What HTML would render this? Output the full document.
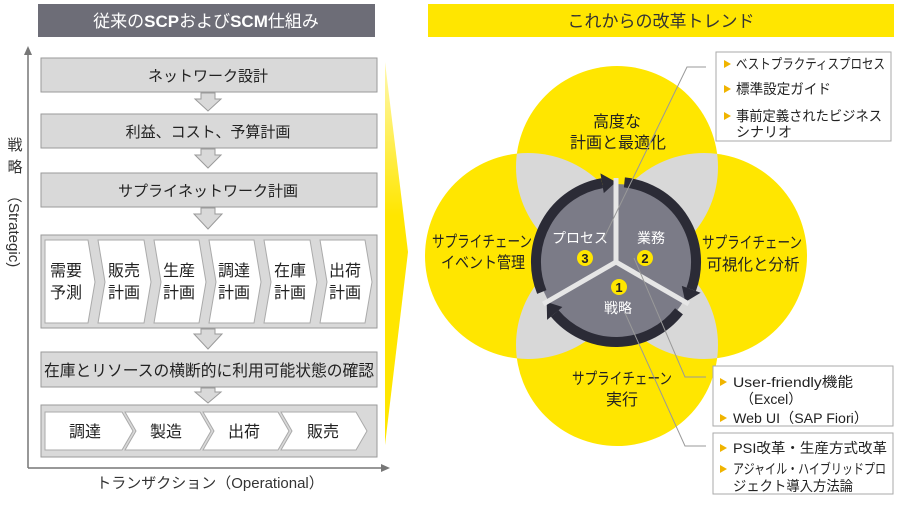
<!DOCTYPE html>
<html><head><meta charset="utf-8"><style>
body{margin:0;background:#fff;}
svg text{font-family:"Liberation Sans","Noto Sans CJK JP",sans-serif;}
</style></head><body>
<svg width="900" height="500" viewBox="0 0 900 500" xmlns="http://www.w3.org/2000/svg">
<defs>
<clipPath id="cT"><circle cx="617" cy="167" r="101"/></clipPath>
<clipPath id="cB"><circle cx="617" cy="345" r="101"/></clipPath>
<linearGradient id="wg" x1="0" y1="0" x2="0" y2="1"><stop offset="0" stop-color="#fff8b0"/><stop offset="0.4" stop-color="#ffe600"/><stop offset="1" stop-color="#ffe600"/></linearGradient>
</defs>
<rect x="38" y="4" width="337" height="33" fill="#6d6d77"/>
<text x="206" y="27" font-size="17" fill="#fff" text-anchor="middle">従来の<tspan font-weight="bold">SCP</tspan>および<tspan font-weight="bold">SCM</tspan>仕組み</text>
<line x1="28" y1="52" x2="28" y2="468" stroke="#777" stroke-width="1.5"/>
<polygon points="28,46 24,55 32,55" fill="#777"/>
<line x1="28" y1="468" x2="382" y2="468" stroke="#777" stroke-width="1.5"/>
<polygon points="390,468 381,464 381,472" fill="#777"/>
<text x="15" y="150" font-size="15" fill="#333" text-anchor="middle">戦</text>
<text x="15" y="172" font-size="15" fill="#333" text-anchor="middle">略</text>
<text x="0" y="0" font-size="15" fill="#333" transform="translate(9,188) rotate(90)">（Strategic)</text>
<text x="210" y="488" font-size="15" fill="#333" text-anchor="middle">トランザクション（Operational）</text>
<polygon points="385,62 408,252 385,445" fill="url(#wg)"/>
<g fill="#d9d9d9" stroke="#9a9a9a" stroke-width="1">
<rect x="41" y="58" width="336" height="34"/>
<rect x="41" y="114" width="336" height="34"/>
<rect x="41" y="173" width="336" height="34"/>
<rect x="41" y="235" width="336" height="93"/>
<rect x="41" y="352" width="336" height="35"/>
<rect x="41" y="405" width="336" height="52"/>
</g>
<g fill="#d9d9d9" stroke="#9a9a9a" stroke-width="1">
<polygon points="201,93 215,93 215,99 221,99 208,111 195,99 201,99"/>
<polygon points="201,149 215,149 215,155 221,155 208,168 195,155 201,155"/>
<polygon points="201,208 215,208 215,214 222,214 208,229 194,214 201,214"/>
<polygon points="201,329 215,329 215,334 222,334 208,349 194,334 201,334"/>
<polygon points="201,388 215,388 215,392 221,392 208,403 195,392 201,392"/>
</g>
<g font-size="15" fill="#222" text-anchor="middle">
<text x="208" y="81">ネットワーク設計</text>
<text x="208" y="137">利益、コスト、予算計画</text>
<text x="208" y="196">サプライネットワーク計画</text>
<text x="209" y="376" font-size="16" textLength="330" lengthAdjust="spacingAndGlyphs">在庫とリソースの横断的に利用可能状態の確認</text>
</g>
<g fill="#fff" stroke="#aaa" stroke-width="1">
<polygon points="45,240 88,240 95,282 88,323 45,323"/>
<polygon points="98,240 144,240 151,282 144,323 98,323 105,282"/>
<polygon points="154,240 199,240 206,282 199,323 154,323 161,282"/>
<polygon points="209,240 254,240 261,282 254,323 209,323 216,282"/>
<polygon points="264,240 310,240 317,282 310,323 264,323 271,282"/>
<polygon points="320,240 365,240 372,282 365,323 320,323 327,282"/>
</g>
<g font-size="16" fill="#222" text-anchor="middle">
<text x="66" y="276">需要</text><text x="66" y="298">予測</text>
<text x="124" y="276">販売</text><text x="124" y="298">計画</text>
<text x="179" y="276">生産</text><text x="179" y="298">計画</text>
<text x="234" y="276">調達</text><text x="234" y="298">計画</text>
<text x="290" y="276">在庫</text><text x="290" y="298">計画</text>
<text x="345" y="276">出荷</text><text x="345" y="298">計画</text>
</g>
<g fill="#fff" stroke="#aaa" stroke-width="1">
<polygon points="45,412 122,412 133,431 122,450 45,450"/>
<polygon points="125,412 200,412 211,431 200,450 125,450 136,431"/>
<polygon points="203,412 278,412 289,431 278,450 203,450 214,431"/>
<polygon points="281,412 356,412 367,431 356,450 281,450 292,431"/>
</g>
<g font-size="16" fill="#222" text-anchor="middle">
<text x="85" y="437">調達</text><text x="166" y="437">製造</text>
<text x="244" y="437">出荷</text><text x="323" y="437">販売</text>
</g>
<rect x="428" y="4" width="466" height="33" fill="#ffe600"/>
<text x="661" y="27" font-size="17" fill="#333" text-anchor="middle">これからの改革トレンド</text>
<g fill="#ffe600">
<circle cx="617" cy="167" r="101"/><circle cx="528" cy="256" r="103"/>
<circle cx="704" cy="256" r="103"/><circle cx="617" cy="345" r="101"/>
</g>
<g fill="#d8d8d8">
<circle cx="528" cy="256" r="103" clip-path="url(#cT)"/>
<circle cx="704" cy="256" r="103" clip-path="url(#cT)"/>
<circle cx="528" cy="256" r="103" clip-path="url(#cB)"/>
<circle cx="704" cy="256" r="103" clip-path="url(#cB)"/>
</g>
<circle cx="616" cy="262" r="78" fill="#7b7b87"/>
<g fill="none" stroke="#2b2b36" stroke-width="10">
<path d="M624.4,182.4 A80,80 0 0 1 691.2,289.4"/>
<path d="M679,311.3 A80,80 0 0 1 554.7,313.4"/>
<path d="M541.8,292 A80,80 0 0 1 602.1,183.2"/>
</g>
<g fill="#2b2b36">
<polygon points="685.3,302 681.8,285.9 700.6,292.8"/>
<polygon points="546.7,302 562.4,307 547.1,319.9"/>
<polygon points="616,182 603.8,193.1 600.4,173.4"/>
</g>
<g stroke="#e6e6e6" stroke-width="5">
<line x1="616" y1="262" x2="616" y2="178"/>
<line x1="616" y1="262" x2="688.7" y2="304"/>
<line x1="616" y1="262" x2="543.3" y2="304"/>
</g>
<g font-size="16" fill="#222" text-anchor="middle">
<text x="617" y="127">高度な</text><text x="618" y="148" textLength="96" lengthAdjust="spacingAndGlyphs">計画と最適化</text>
<text x="482" y="247" textLength="100" lengthAdjust="spacingAndGlyphs">サプライチェーン</text><text x="483" y="268" textLength="84" lengthAdjust="spacingAndGlyphs">イベント管理</text>
<text x="752" y="248" textLength="100" lengthAdjust="spacingAndGlyphs">サプライチェーン</text><text x="753" y="270" textLength="93" lengthAdjust="spacingAndGlyphs">可視化と分析</text>
<text x="622" y="384" textLength="100" lengthAdjust="spacingAndGlyphs">サプライチェーン</text><text x="622" y="405">実行</text>
</g>
<g font-size="14" fill="#fff" text-anchor="middle">
<text x="580" y="243">プロセス</text><text x="651" y="243">業務</text><text x="618" y="313">戦略</text>
</g>
<g fill="#ffe600"><circle cx="585" cy="258" r="8"/><circle cx="645" cy="258" r="8"/><circle cx="619" cy="287" r="8"/></g>
<g font-size="13" font-weight="bold" fill="#222" text-anchor="middle">
<text x="585" y="263">3</text><text x="645" y="263">2</text><text x="619" y="292">1</text>
</g>
<g stroke="#999" stroke-width="1" fill="none">
<polyline points="706,67 687,67 603,240"/>
<polyline points="706,377 685,377 634,258"/>
<polyline points="706,446 685,446 625,313"/>
</g>
<g fill="#fff" stroke="#aaa" stroke-width="1">
<rect x="716" y="52" width="175" height="89"/>
<rect x="713" y="366" width="180" height="60"/>
<rect x="713" y="433" width="180" height="61"/>
</g>
<g fill="#f0b400">
<polygon points="724,60 724,68 731,64"/><polygon points="724,85 724,93 731,89"/><polygon points="724,112 724,120 731,116"/>
<polygon points="720,378 720,386 727,382"/><polygon points="720,414 720,422 727,418"/>
<polygon points="720,444 720,452 727,448"/><polygon points="720,465 720,473 727,469"/>
</g>
<g font-size="14" fill="#222">
<text x="736" y="69" textLength="149" lengthAdjust="spacingAndGlyphs">ベストプラクティスプロセス</text>
<text x="736" y="94" textLength="95" lengthAdjust="spacingAndGlyphs">標準設定ガイド</text>
<text x="736" y="121" textLength="146" lengthAdjust="spacingAndGlyphs">事前定義されたビジネス</text>
<text x="736" y="137">シナリオ</text>
<text x="733" y="387" textLength="120" lengthAdjust="spacingAndGlyphs">User-friendly機能</text>
<text x="740" y="404">（Excel）</text>
<text x="733" y="423" textLength="135" lengthAdjust="spacingAndGlyphs">Web UI（SAP Fiori）</text>
<text x="733" y="453" textLength="154" lengthAdjust="spacingAndGlyphs">PSI改革・生産方式改革</text>
<text x="733" y="474" textLength="153" lengthAdjust="spacingAndGlyphs">アジャイル・ハイブリッドプロ</text>
<text x="733" y="491" textLength="120" lengthAdjust="spacingAndGlyphs">ジェクト導入方法論</text>
</g>
</svg>
</body></html>
